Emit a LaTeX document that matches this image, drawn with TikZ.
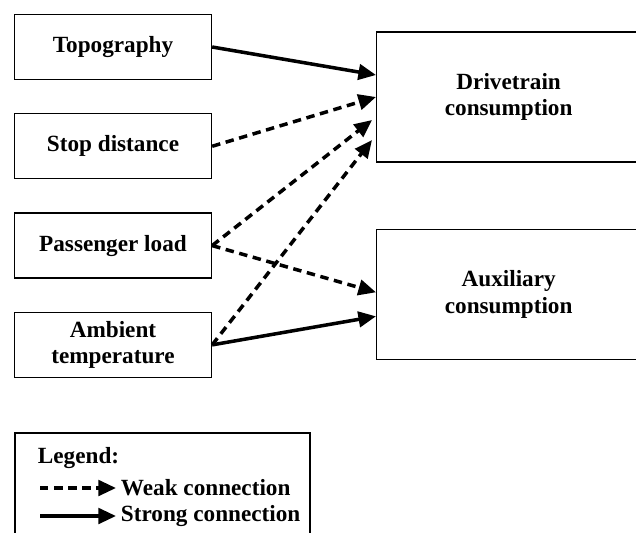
\documentclass[tikz,border=0pt]{standalone}
\usepackage{fontspec}
\setmainfont{Liberation Serif}
\usetikzlibrary{arrows.meta,positioning}

\tikzset{
  boxfont/.style={font=\fontsize{16.5}{19}\selectfont\bfseries},
  factor/.style={draw, line width=0.9pt, boxfont, align=center,
    minimum width=4.925cm, minimum height=1.625cm},
  target/.style={draw, line width=0.9pt, boxfont, align=center,
    minimum width=6.6cm, minimum height=3.25cm},
  strong/.style={line width=2.5pt, -{Triangle[length=12.5pt, width=11pt]}},
  weak/.style={strong, dash pattern=on 6pt off 4pt},
}

\begin{document}
\begin{tikzpicture}[x=0.025cm, y=-0.025cm]
        \useasboundingbox (0,0) rectangle (636,532);

        % NODES
        % -----------------

        \node[factor] at (113,47)           (topo)    {Topography};
        \node[factor, below=0.825cm of topo] (stop)    {Stop distance};
        \node[factor, below=0.825cm of stop] (load)    {Passenger load};
        \node[factor, below=0.825cm of load] (temp)    {Ambient\\temperature};

        \node[target, anchor=west] at (376,97)  (drive) {Drivetrain\\consumption};
        \node[target, below=1.65cm of drive]    (aux)   {Auxiliary\\consumption};

        % LEGEND
        % -----------------

        \node[draw, line width=0.9pt, minimum width=7.375cm, minimum height=2.85cm] at (162.5,490) (legend) {};
        \node[boxfont, anchor=west] at (33,458)  (legend_title) {Legend:};
        \node[boxfont, anchor=west] at (116,488) (weak_text)    {Weak connection};
        \node[boxfont, anchor=west] at (116,516) (strong_text)  {Strong connection};
        \coordinate (weak_start)   at (40,488);
        \coordinate (strong_start) at (40,516);

        % EDGES
        % -----------------

        \draw[strong] (topo.east) -- ([yshift=0.55cm]drive.west);
        \draw[weak]   (stop.east) -- (drive.west);
        \draw[weak]   (load.east) -- ([xshift=-0.1cm, yshift=-0.575cm]drive.west);
        \draw[weak]   (temp.east) -- ([xshift=-0.1cm, yshift=-1.075cm]drive.west);

        \draw[weak]   (load.east) -- ([yshift=0.05cm]aux.west);
        \draw[strong] (temp.east) -- ([yshift=-0.55cm]aux.west);

        \draw[weak]   (weak_start)   -- (weak_text.west);
        \draw[strong] (strong_start) -- (strong_text.west);

\end{tikzpicture}
\end{document}
